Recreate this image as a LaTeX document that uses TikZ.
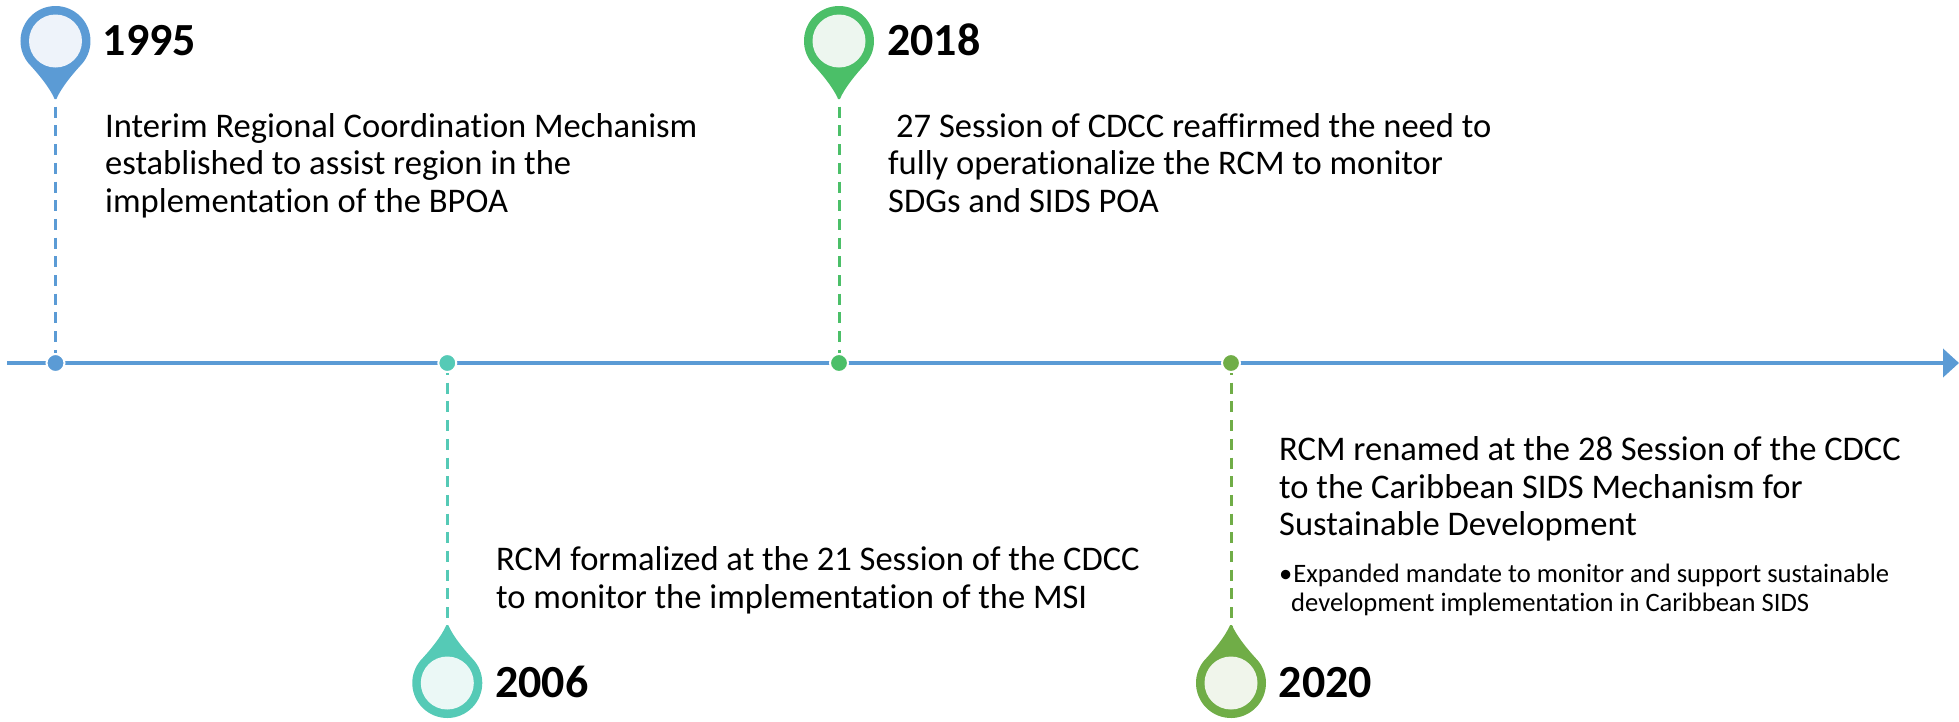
\documentclass[tikz,border=0pt]{standalone}
\usepackage{fontspec}
\setmainfont{Carlito}[RawFeature={-liga}]
\usetikzlibrary{arrows.meta}
\definecolor{cblue}{HTML}{5B9BD5}
\definecolor{cteal}{HTML}{55CAB6}
\definecolor{cgreen}{HTML}{4BBF68}
\definecolor{clime}{HTML}{70AD47}
\definecolor{fblue}{HTML}{EEF3FA}
\definecolor{fteal}{HTML}{EBF8F6}
\definecolor{fgreen}{HTML}{EDF6EF}
\definecolor{flime}{HTML}{F0F5EB}
\tikzset{
  yeartext/.style={anchor=base west,inner sep=0pt,font=\fontsize{46}{50}\selectfont\bfseries},
  bodytext/.style={anchor=base west,inner sep=0pt,align=left,font=\fontsize{34.55}{37.5}\selectfont},
  smalltext/.style={anchor=base west,inner sep=0pt,align=left,font=\fontsize{26.6}{29}\selectfont},
  dotnode/.style={circle,fill=#1,draw=white,line width=2pt,minimum size=18pt,inner sep=0pt},
  headnode/.style={circle,fill=#1,minimum size=53pt,inner sep=0pt},
  dashline/.style={draw=#1,line width=3pt,dash pattern=on 11pt off 7.7pt},
}
% \pinshape{x}{y}{flip}{colour}
\newcommand{\pinshape}[4]{%
  \fill[#4,shift={(#1,#2)},yscale=#3]
    (26.8,22.5) arc[start angle=40,end angle=-220,radius=35]
    .. controls (-18,32) and (-6,46) .. (-0.9,58) -- (0.9,58)
    .. controls (6,46) and (18,32) .. cycle;}
\begin{document}
\begin{tikzpicture}[x=1pt,y=-1pt]
\useasboundingbox (0,0) rectangle (1959,721);
% axis
\coordinate (axisstart) at (7,363);
\coordinate (axisend) at (1959,363);
\draw[cblue,line width=4.4pt,-{Triangle[length=16pt,width=28pt]}] (axisstart) -- (axisend);
% dots
\node[dotnode=cblue] (d1) at (55.5,363) {};
\node[dotnode=cteal] (d2) at (447.3,363) {};
\node[dotnode=cgreen] (d3) at (839,363) {};
\node[dotnode=clime] (d4) at (1231,363) {};
% pins
\pinshape{55.5}{41}{1}{cblue}
\pinshape{447.3}{683}{-1}{cteal}
\pinshape{839}{41}{1}{cgreen}
\pinshape{1231}{683}{-1}{clime}
\node[headnode=fblue] (h1) at (55.5,41) {};
\node[headnode=fteal] (h2) at (447.3,683) {};
\node[headnode=fgreen] (h3) at (839,41) {};
\node[headnode=flime] (h4) at (1231,683) {};
\coordinate (t1) at (55.5,99);
\coordinate (t2) at (447.3,627);
\coordinate (t3) at (839,99);
\coordinate (t4) at (1231,627);
% connectors
\draw[dashline=cblue,dash phase=11pt] (t1) -- (d1);
\draw[dashline=cteal,dash phase=9pt] (d2) -- (t2);
\draw[dashline=cgreen,dash phase=11pt] (t3) -- (d3);
\draw[dashline=clime,dash phase=9pt] (d4) -- (t4);
% years
\node[yeartext] (y1) at (102.5,55.5) {1995};
\node[yeartext] (y2) at (495,697) {2006};
\node[yeartext] (y3) at (887,55.5) {2018};
\node[yeartext] (y4) at (1278.5,697) {2020};
% texts
\node[bodytext] (b1) at (105,212) {Interim Regional Coordination Mechanism\\established to assist region in the\\implementation of the BPOA};
\node[bodytext] (b2) at (496,608) {RCM formalized at the 21 Session of the CDCC\\to monitor the implementation of the MSI};
\node[bodytext] (b3) at (888,212) {\hspace{8pt}27 Session of CDCC reaffirmed the need to\\fully operationalize the RCM to monitor\\SDGs and SIDS POA};
\node[bodytext] (b4) at (1279,535.7) {RCM renamed at the 28 Session of the CDCC\\to the Caribbean SIDS Mechanism for\\Sustainable Development};
\node[smalltext] (b5) at (1279,611) {\textbullet\hspace{1pt}Expanded mandate to monitor and support sustainable\\\hspace{12pt}development implementation in Caribbean SIDS};
\end{tikzpicture}
\end{document}
